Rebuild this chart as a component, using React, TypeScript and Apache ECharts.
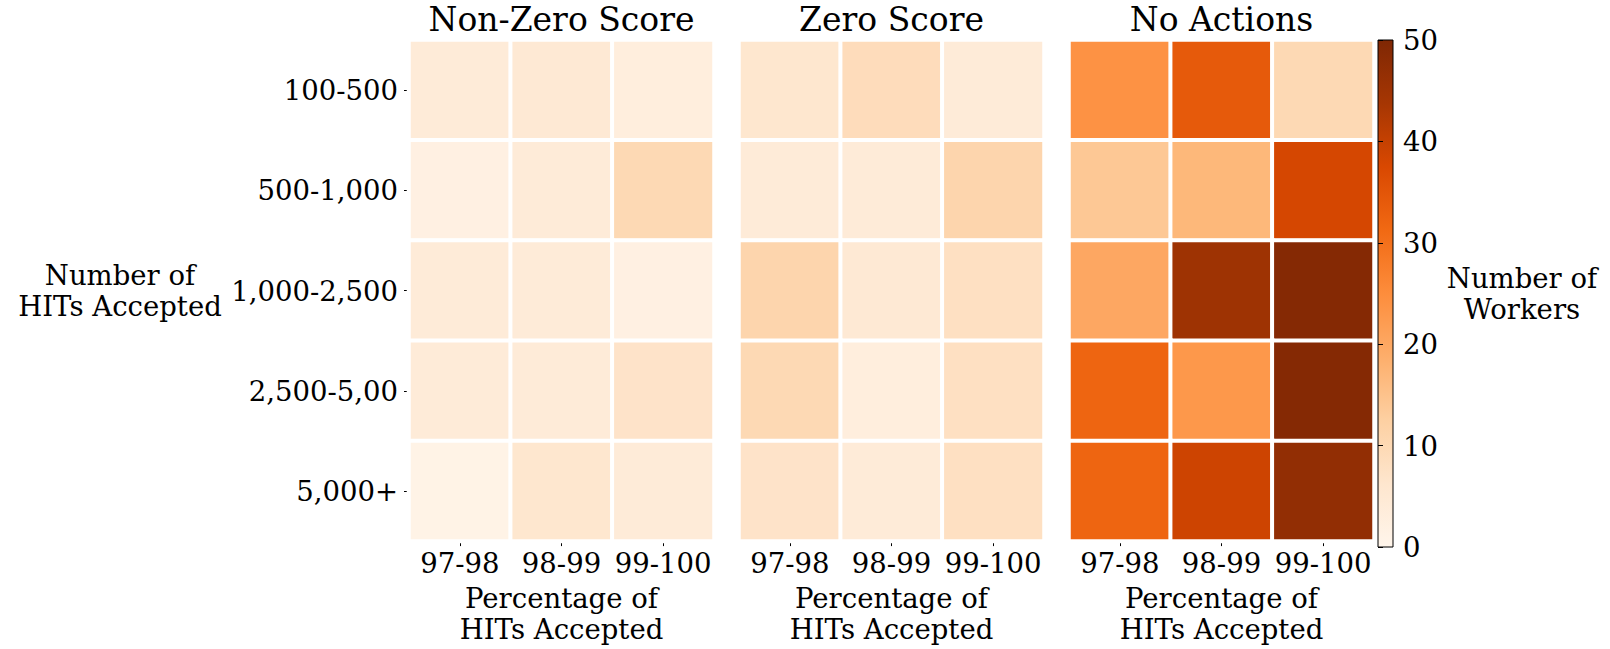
import React, { useEffect, useRef } from "react";
import * as echarts from "echarts";

const xCategories = ["97-98", "98-99", "99-100"];
const yCategories = ["100-500", "500-1,000", "1,000-2,500", "2,500-5,00", "5,000+"];
const panelTitles = ["Non-Zero Score", "Zero Score", "No Actions"];

// rows top to bottom (yCategories), columns left to right (xCategories)
const nonZeroScore = [
  [4, 5, 3],
  [2, 4, 10],
  [4, 4, 2],
  [4, 4, 7],
  [1, 6, 4],
];
const zeroScore = [
  [6, 9, 4],
  [4, 4, 11],
  [11, 5, 8],
  [10, 3, 8],
  [7, 4, 8],
];
const noActions = [
  [24, 34, 10],
  [14, 17, 38],
  [20, 45, 49],
  [32, 23, 49],
  [32, 39, 47],
];
const colorbarTicks = [0, 10, 20, 30, 40, 50];

const oranges = [
  "#fff5eb", "#fee6ce", "#fdd0a2", "#fdae6b", "#fd8d3c",
  "#f16913", "#d94801", "#a63603", "#7f2704",
];

const FONT = "DejaVu Serif";
const FS = 27.5;

export default function App() {
  const ref = useRef<HTMLDivElement>(null);
  useEffect(() => {
    if (!ref.current) return;
    const chart = echarts.init(ref.current, null, { renderer: "svg" });
    const panels = [nonZeroScore, zeroScore, noActions];
    const lefts = [409, 739, 1069];
    const gw = 305;
    const top = 40;
    const gh = 507;
    const txt = { color: "#000", fontFamily: FONT, fontSize: FS };

    const grids: any[] = lefts.map((l) => ({ left: l, top, width: gw, height: gh }));
    grids.push({
      left: 1378, top, width: 15, height: gh, show: true,
      backgroundColor: new echarts.graphic.LinearGradient(
        0, 1, 0, 0,
        oranges.map((c, i) => ({ offset: i / (oranges.length - 1), color: c }))
      ),
      borderColor: "#000", borderWidth: 1,
    });

    const xAxes: any[] = lefts.map((_, i) => ({
      type: "category", gridIndex: i, data: xCategories,
      axisLine: { show: false },
      axisTick: { show: true, alignWithLabel: true, interval: 0, length: 5, lineStyle: { color: "#000", width: 1 } },
      axisLabel: { ...txt, interval: 0, margin: 8 },
      splitLine: { show: false },
      name: "Percentage of\nHITs Accepted", nameLocation: "middle", nameGap: 38,
      nameTextStyle: { ...txt, lineHeight: 31 },
    }));
    xAxes.push({ type: "value", gridIndex: 3, show: false, min: 0, max: 1 });

    const yAxes: any[] = lefts.map((_, i) => ({
      type: "category", gridIndex: i, data: yCategories, inverse: true,
      show: i === 0,
      axisLine: { show: false },
      axisTick: { show: true, alignWithLabel: true, interval: 0, length: 5, lineStyle: { color: "#000", width: 1 } },
      axisLabel: { ...txt, interval: 0, margin: 11 },
      splitLine: { show: false },
      name: i === 0 ? "Number of\nHITs Accepted" : "",
      nameLocation: "middle", nameRotate: 0, nameGap: 289,
      nameTextStyle: { ...txt, lineHeight: 31, align: "center" },
    }));
    yAxes.push({
      type: "value", gridIndex: 3, position: "right", min: colorbarTicks[0],
      max: colorbarTicks[colorbarTicks.length - 1], interval: colorbarTicks[1] - colorbarTicks[0],
      axisLine: { show: false },
      axisTick: { show: true, length: 5, lineStyle: { color: "#000", width: 1 } },
      axisLabel: { ...txt, margin: 10 },
      splitLine: { show: false },
      name: "Number of\nWorkers", nameLocation: "middle", nameRotate: 0, nameGap: 129,
      nameTextStyle: { ...txt, lineHeight: 31, align: "center" },
    });

    const series = panels.map((rows, i) => ({
      type: "heatmap", xAxisIndex: i, yAxisIndex: i,
      data: rows.flatMap((row, r) => row.map((v, c) => [c, r, v])),
      itemStyle: { borderColor: "#fff", borderWidth: 4 },
      emphasis: { disabled: true },
    }));

    chart.setOption({
      animation: false,
      backgroundColor: "#fff",
      title: panelTitles.map((t, i) => ({
        text: t, left: lefts[i] + gw / 2, top: 3, textAlign: "center", padding: 0,
        textStyle: { color: "#000", fontFamily: FONT, fontSize: 33, fontWeight: "normal", lineHeight: 32 },
      })),
      grid: grids,
      xAxis: xAxes,
      yAxis: yAxes,
      visualMap: {
        type: "continuous", min: 0, max: 50, show: false, seriesIndex: [0, 1, 2],
        inRange: { color: oranges },
      },
      series,
    });
    return () => chart.dispose();
  }, []);
  return (
    <div
      ref={ref}
      style={{ position: "fixed", left: 0, top: 0, width: 1610, height: 649 }}
    />
  );
}
